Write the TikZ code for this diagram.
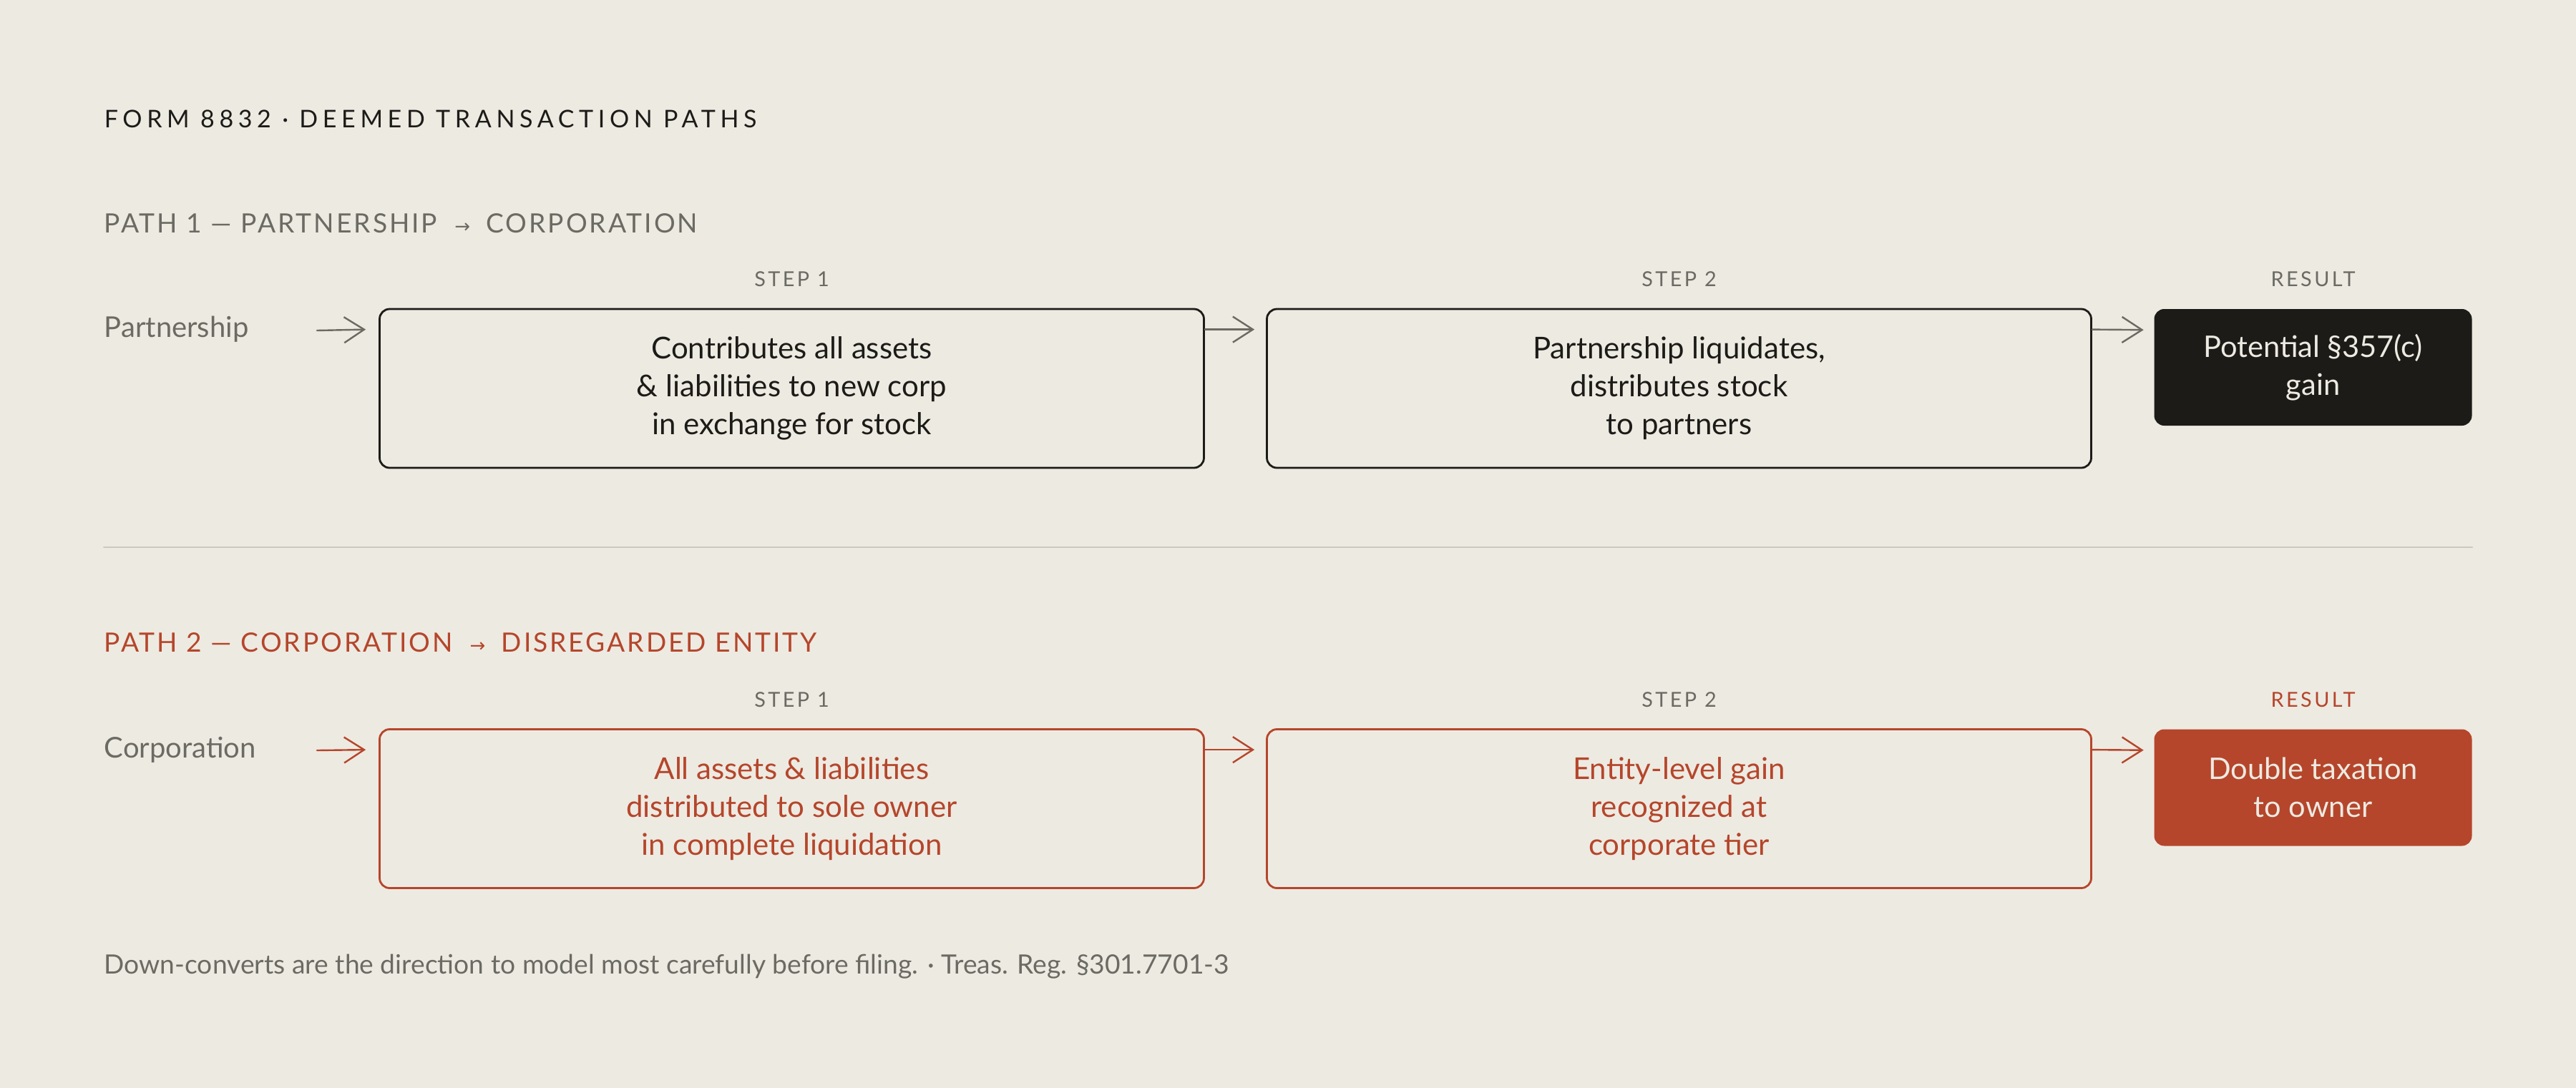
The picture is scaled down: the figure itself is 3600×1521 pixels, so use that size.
\documentclass[tikz,border=0pt]{standalone}
\usepackage{fontspec}
\setmainfont{Lato}
\newfontfamily\trackfont[LetterSpace=18]{Lato}
\newfontfamily\arrowfont{DejaVu Sans}
\usetikzlibrary{arrows.meta}
\definecolor{paper}{HTML}{EDEAE2}
\definecolor{ink}{HTML}{1C1B17}
\definecolor{mute}{HTML}{6B6A63}
\definecolor{rust}{HTML}{B5462B}
\definecolor{rule}{HTML}{CCC9C1}
\newcommand{\pathhead}[1]{\trackfont\addfontfeatures{LetterSpace=8}\fontsize{9.3}{11}\selectfont #1}
\newcommand{\rarr}{\hspace{0.65em}{\arrowfont\fontsize{6.5}{8}\selectfont →}\hspace{0.6em}}
\begin{document}
\begin{tikzpicture}[x=0.25pt, y=-0.25pt, line join=round, line cap=round, >={Straight Barb[length=7pt,width=9pt]}]
			\tikzset{stepbox/.style={draw=#1, text=#1, line width=0.7pt, rounded corners=3.5pt, minimum width=288pt, minimum height=55.5pt, inner sep=0pt, align=center, font=\fontsize{10.5}{13.25}\selectfont},
				resbox/.style={fill=#1, text=paper, rounded corners=3.5pt, minimum width=111pt, minimum height=40.75pt, inner sep=0pt, align=center, font=\fontsize{10.4}{13.25}\selectfont},
				steplabel/.style={text=#1, font=\trackfont\addfontfeatures{LetterSpace=12}\fontsize{7.2}{9}\selectfont},
				sidelabel/.style={anchor=west, text=mute, inner sep=0pt, font=\fontsize{10}{12}\selectfont},
				flow/.style={->, draw=#1, line width=0.6pt}}
			\fill[paper] (0,0) rectangle (3600,1521);
			\node[anchor=west, inner sep=0pt, text=ink, font=\trackfont\addfontfeatures{LetterSpace=19.5}\fontsize{8.5}{10}\selectfont] (title) at (145,166) {FORM 8832 · DEEMED TRANSACTION PATHS};
			% path 1
			\node[anchor=west, inner sep=0pt, text=mute] (headA) at (145,312) {\pathhead{PATH 1 — PARTNERSHIP\rarr CORPORATION}};
			\node[sidelabel] (srcA) at (145,460) {Partnership};
			\node[stepbox=ink] (bxA1) at (1106.5,543) {Contributes all assets\\\& liabilities to new corp\\in exchange for stock};
			\node[stepbox=ink] (bxA2) at (2346.5,543) {Partnership liquidates,\\distributes stock\\to partners};
			\node[resbox=ink] (resA) at (3232.5,513.5) {Potential §357(c)\\gain};
			\foreach \b/\t in {bxA1/STEP 1, bxA2/STEP 2, resA/RESULT}
			\node[steplabel=mute] at (\b.north |- 0,390) {\t};
			\coordinate (inA) at (443,462);
			\draw[flow=mute] (inA) -- ([xshift=-4.5pt,yshift=-7.5pt]bxA1.north west);
			\draw[flow=mute] ([yshift=-7.5pt]bxA1.north east) -- ([xshift=-4pt,yshift=-7.5pt]bxA2.north west);
			\draw[flow=mute] ([yshift=-7.5pt]bxA2.north east) -- ([xshift=-3.5pt,yshift=-7.5pt]resA.north west);
			% separator
			\coordinate (ruleL) at (145,765);
			\coordinate (ruleR) at (3455,765);
			\draw[rule, line width=0.5pt] (ruleL) -- (ruleR);
			% path 2
			\node[anchor=west, inner sep=0pt, text=rust] (headB) at (145,898) {\pathhead{PATH 2 — CORPORATION\rarr DISREGARDED ENTITY}};
			\node[sidelabel] (srcB) at (145,1048) {Corporation};
			\node[stepbox=rust] (bxB1) at (1106.5,1130.5) {All assets \& liabilities\\distributed to sole owner\\in complete liquidation};
			\node[stepbox=rust] (bxB2) at (2346.5,1130.5) {Entity-level gain\\recognized at\\corporate tier};
			\node[resbox=rust] (resB) at (3232.5,1101) {Double taxation\\to owner};
			\foreach \b/\t/\c in {bxB1/STEP 1/mute, bxB2/STEP 2/mute, resB/RESULT/rust}
			\node[steplabel=\c] at (\b.north |- 0,978) {\t};
			\coordinate (inB) at (443,1049);
			\draw[flow=rust] (inB) -- ([xshift=-4.5pt,yshift=-7.5pt]bxB1.north west);
			\draw[flow=rust] ([yshift=-7.5pt]bxB1.north east) -- ([xshift=-4pt,yshift=-7.5pt]bxB2.north west);
			\draw[flow=rust] ([yshift=-7.5pt]bxB2.north east) -- ([xshift=-3.5pt,yshift=-7.5pt]resB.north west);
			\node[anchor=west, inner sep=0pt, text=mute, font=\fontsize{9.3}{11}\selectfont] (note) at (145,1351) {Down-converts are the direction to model most carefully before filing. · Treas. Reg. §301.7701-3};
\end{tikzpicture}
\end{document}
